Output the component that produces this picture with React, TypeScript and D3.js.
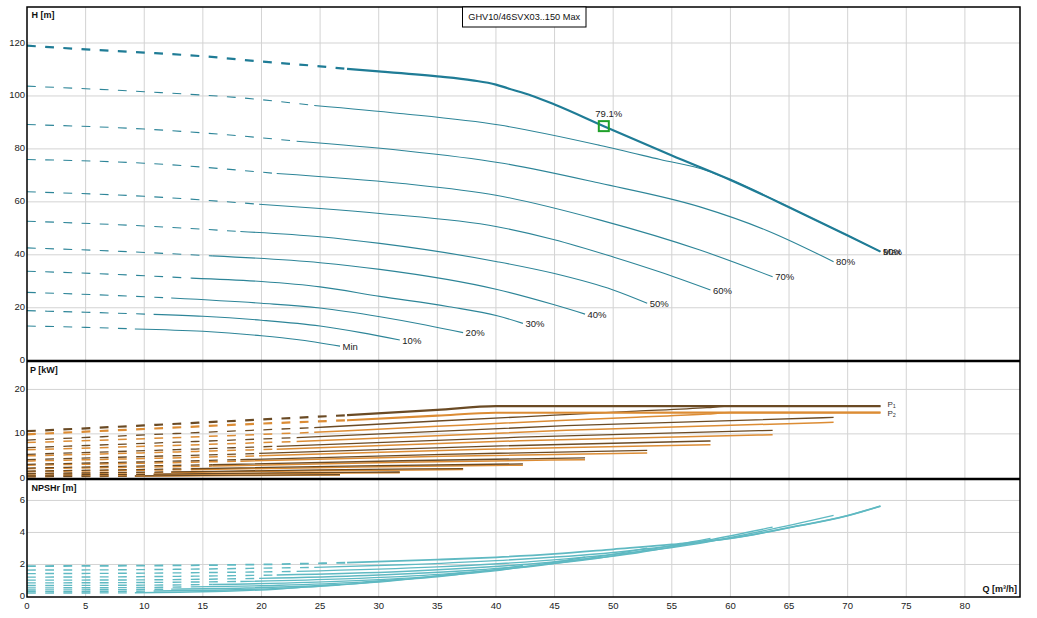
import React from "react";
import * as d3 from "d3";

const W = 1037;
const H = 618;

const title = "GHV10/46SVX03..150 Max";
const xTicks = [0, 5, 10, 15, 20, 25, 30, 35, 40, 45, 50, 55, 60, 65, 70, 75, 80];
const headTicks = [0, 20, 40, 60, 80, 100, 120];
const powerTicks = [0, 10, 20];
const npshTicks = [0, 2, 4, 6];

const curveLabels = ["Max", "90%", "80%", "70%", "60%", "50%", "40%", "30%", "20%", "10%", "Min"];
const dashEnds = [27.3, 24.5, 23, 21.3, 19.8, 18.2, 15.8, 14, 12.3, 10.8, 9.2];

const bestPoint = [49.2, 88.6];
const bestLabel = "79.1%";

const headCurves: number[][][] = [
  [[0, 119], [5, 117.6], [10, 116.4], [15, 115], [20, 113], [25, 111.2], [27.3, 110.2], [30, 109.3], [35, 107.4], [38, 105.9], [40, 104.3], [41, 102.9], [43, 100.2], [45, 96.8], [49.2, 88.6], [55, 77.5], [60, 68.3], [65, 58], [70, 47.3], [72.8, 41.2]],
  [[0, 103.7], [10, 101.6], [20, 98.6], [24.5, 96.4], [31.8, 93.4], [40.3, 89], [48.9, 81.3], [54, 76], [58, 71.8], [60, 68.3], [65, 58], [70, 47.3], [72.8, 41.2]],
  [[0, 89.2], [10, 87.5], [20, 84.2], [23, 82.9], [31.8, 79.5], [40.3, 74.8], [48.9, 67], [57.4, 58.1], [63.1, 49.2], [68.8, 37.4]],
  [[0, 76], [10, 74.6], [21.3, 70.7], [31.8, 67], [40, 62.5], [48.9, 53.1], [57.4, 41.8], [63.6, 31.7]],
  [[0, 63.8], [10, 62.1], [19.8, 59.1], [25, 57.5], [30.1, 55.6], [40.1, 50.6], [44.9, 45.8], [50, 39.2], [54, 33.5], [58.3, 26.7]],
  [[0, 52.7], [10, 50.9], [18.2, 48.8], [25, 46.8], [30.1, 44.3], [40.1, 37.4], [44.9, 33], [50, 26.7], [52.9, 21.7]],
  [[0, 42.6], [8, 41.3], [15.8, 39.6], [25, 37], [30.1, 34.5], [40.1, 26.9], [44.9, 21.2], [47.6, 17.6]],
  [[0, 33.8], [7, 32.7], [14, 31.2], [20, 29.9], [25, 27.9], [30.1, 24.3], [36, 20.4], [40.1, 17], [42.3, 14.1]],
  [[0, 25.8], [6, 24.9], [12.3, 23.7], [20, 21.7], [25, 19.9], [30.1, 16.6], [34, 13.5], [37.2, 10.6]],
  [[0, 18.9], [5, 18.3], [10.8, 17.5], [15, 16.8], [20, 15.3], [25, 13.1], [28.5, 10.6], [31.8, 7.8]],
  [[0, 13.1], [5, 12.6], [9.2, 12], [15, 11.1], [20, 9.4], [23, 8], [26.7, 5.5]],
];

const p1Curves: number[][][] = [
  [[0, 10.6], [10, 11.9], [19, 13.1], [27.3, 14.2], [35, 15.4], [40, 16.25], [72.8, 16.25]],
  [[0, 8.6], [12, 10], [24.5, 11.4], [35, 12.9], [45, 14.2], [52, 15.1], [58, 15.9], [60, 16.25], [72.8, 16.25]],
  [[0, 6.9], [12, 8.05], [23, 9.15], [46, 11.85], [68.8, 13.7]],
  [[0, 5.4], [11, 6.3], [21.3, 7.2], [42, 9.25], [63.6, 10.8]],
  [[0, 4.2], [10, 4.9], [19.8, 5.6], [39, 7.2], [58.3, 8.4]],
  [[0, 3.15], [9, 3.65], [18.2, 4.2], [35.5, 5.4], [52.9, 6.3]],
  [[0, 2.3], [8, 2.7], [15.8, 3.05], [32, 3.95], [47.6, 4.6]],
  [[0, 1.62], [7, 1.88], [14, 2.15], [28.5, 2.8], [42.3, 3.25]],
  [[0, 1.08], [6, 1.26], [12.3, 1.45], [25, 1.88], [37.2, 2.2]],
  [[0, 0.7], [5.4, 0.81], [10.8, 0.93], [21.5, 1.2], [31.8, 1.42]],
  [[0, 0.4], [4.6, 0.46], [9.2, 0.53], [18, 0.7], [26.7, 0.82]],
];

const p2Curves: number[][][] = [
  [[0, 9.9], [10, 11.1], [19, 12.2], [27.3, 13.05], [35, 14.1], [40, 14.75], [72.8, 14.8]],
  [[0, 8.05], [12, 9.1], [24.5, 10.35], [35, 11.7], [45, 12.95], [52, 13.75], [58, 14.45], [60, 14.8], [72.8, 14.8]],
  [[0, 6.45], [12, 7.35], [23, 8.3], [46, 10.8], [68.8, 12.6]],
  [[0, 5.05], [11, 5.8], [21.3, 6.55], [42, 8.45], [63.6, 9.8]],
  [[0, 3.9], [10, 4.45], [19.8, 5.05], [39, 6.55], [58.3, 7.55]],
  [[0, 2.95], [9, 3.35], [18.2, 3.85], [35.5, 4.95], [52.9, 5.7]],
  [[0, 2.15], [8, 2.45], [15.8, 2.75], [32, 3.6], [47.6, 4.2]],
  [[0, 1.5], [7, 1.72], [14, 1.95], [28.5, 2.55], [42.3, 2.95]],
  [[0, 1.0], [6, 1.15], [12.3, 1.3], [25, 1.7], [37.2, 1.98]],
  [[0, 0.63], [5.4, 0.72], [10.8, 0.83], [21.5, 1.07], [31.8, 1.25]],
  [[0, 0.36], [4.6, 0.41], [9.2, 0.47], [18, 0.62], [26.7, 0.72]],
];

const npshCurves: number[][][] = [
  [[0, 1.9], [10, 1.93], [20, 2.0], [27.3, 2.11], [35, 2.3], [40, 2.45], [45, 2.66], [50, 2.95], [55, 3.25], [60, 3.63], [65, 4.3], [70, 5.05], [72.8, 5.65]],
  [[0, 1.65], [10, 1.68], [24.5, 1.82], [32, 1.98], [40, 2.24], [50, 2.75], [58, 3.44], [60, 3.63], [65, 4.3], [70, 5.05], [72.8, 5.65]],
  [[0, 1.43], [12, 1.47], [23, 1.57], [35, 1.85], [46, 2.35], [57, 3.28], [63, 4.13], [68.8, 5.07]],
  [[0, 1.21], [10, 1.24], [21.3, 1.34], [32, 1.56], [42, 1.98], [52, 2.72], [58, 3.51], [63.6, 4.33]],
  [[0, 1.02], [10, 1.04], [19.8, 1.13], [29, 1.31], [39, 1.69], [48, 2.32], [53, 2.92], [58.3, 3.63]],
  [[0, 0.85], [9, 0.87], [18.2, 0.94], [27, 1.1], [35.5, 1.4], [44, 1.96], [48.5, 2.45], [52.9, 3.02]],
  [[0, 0.69], [8, 0.7], [15.8, 0.75], [24, 0.88], [32, 1.13], [39.5, 1.57], [43.7, 1.99], [47.6, 2.45]],
  [[0, 0.54], [7, 0.55], [14, 0.6], [21.5, 0.7], [28.5, 0.9], [35, 1.23], [39, 1.59], [42.3, 1.94]],
  [[0, 0.41], [6, 0.42], [12.3, 0.46], [18.7, 0.53], [25, 0.69], [30.5, 0.93], [34, 1.21], [37.2, 1.48]],
  [[0, 0.3], [5.4, 0.31], [10.8, 0.34], [16, 0.39], [21.5, 0.51], [26, 0.68], [29, 0.87], [31.8, 1.08]],
  [[0, 0.21], [4.6, 0.22], [9.2, 0.23], [13, 0.27], [17.5, 0.34], [21.5, 0.47], [24, 0.6], [26.7, 0.74]],
];

function splitAt(pts: number[][], q: number): [number[][], number[][]] {
  const dashed: number[][] = [];
  const solid: number[][] = [];
  for (let i = 0; i < pts.length; i++) {
    const p = pts[i];
    if (p[0] <= q) dashed.push(p);
    if (p[0] >= q) solid.push(p);
  }
  const last = dashed[dashed.length - 1];
  if (last[0] < q && solid.length) {
    const nxt = solid[0];
    const t = (q - last[0]) / (nxt[0] - last[0]);
    const mid = [q, last[1] + t * (nxt[1] - last[1])];
    dashed.push(mid);
    solid.unshift(mid);
  }
  return [dashed, solid];
}

const FONT = "'Liberation Sans', Arial, sans-serif";
const DASH = "8.8 9.4";

export default function App() {
  const x = d3.scaleLinear().domain([0, 84.7]).range([27, 1020]);
  const yH = d3.scaleLinear().domain([0, 133.6]).range([360.7, 7]);
  const yP = d3.scaleLinear().domain([0, 26.4]).range([478.3, 361]);
  const yN = d3.scaleLinear().domain([0, 7.34]).range([596.5, 479]);

  const mk = (y: d3.ScaleLinear<number, number>) =>
    d3
      .line<number[]>()
      .x((d) => x(d[0]))
      .y((d) => y(d[1]))
      .curve(d3.curveMonotoneX);
  const lineH = mk(yH);
  const lineP = mk(yP);
  const lineN = mk(yN);

  const gridX = xTicks.filter((t) => t > 0);
  const gridColor = "#d3d3d3";

  const drawSplit = (
    pts: number[][],
    q: number,
    gen: d3.Line<number[]>,
    color: string,
    width: number,
    key: string
  ) => {
    const [dashed, solid] = splitAt(pts, q);
    return (
      <g key={key}>
        <path d={gen(dashed) || ""} fill="none" stroke={color} strokeWidth={width} strokeDasharray={DASH} />
        {solid.length > 1 && <path d={gen(solid) || ""} fill="none" stroke={color} strokeWidth={width} />}
      </g>
    );
  };

  const order = d3.range(curveLabels.length).reverse();

  return (
    <svg
      width={W}
      height={H}
      viewBox={`0 0 ${W} ${H}`}
      style={{ position: "absolute", left: 0, top: 0, background: "#fff" }}
      fontFamily={FONT}
    >
      <rect x={0} y={0} width={W} height={H} fill="#fff" />
      {/* grid */}
      <g stroke={gridColor} strokeWidth={1}>
        {gridX.map((t) => (
          <line key={"gx" + t} x1={x(t)} x2={x(t)} y1={7} y2={597} />
        ))}
        {headTicks.filter((t) => t > 0).map((t) => (
          <line key={"gh" + t} x1={27} x2={1020} y1={yH(t)} y2={yH(t)} />
        ))}
        {powerTicks.filter((t) => t > 0).map((t) => (
          <line key={"gp" + t} x1={27} x2={1020} y1={yP(t)} y2={yP(t)} />
        ))}
        {npshTicks.filter((t) => t > 0).map((t) => (
          <line key={"gn" + t} x1={27} x2={1020} y1={yN(t)} y2={yN(t)} />
        ))}
      </g>

      {/* NPSH curves */}
      {order.map((i) =>
        drawSplit(npshCurves[i], dashEnds[i], lineN, "#5fb9c2", i === 0 ? 1.8 : 1.4, "n" + i)
      )}

      {/* Power curves */}
      {order.map((i) => (
        <g key={"p" + i}>
          {drawSplit(p2Curves[i], dashEnds[i], lineP, "#dc8c34", i === 0 ? 2.2 : 1.5, "p2" + i)}
          {drawSplit(p1Curves[i], dashEnds[i], lineP, "#6a4a24", i === 0 ? 2.2 : 1.3, "p1" + i)}
        </g>
      ))}

      {/* Head curves */}
      {order.map((i) =>
        drawSplit(headCurves[i], dashEnds[i], lineH, i === 0 ? "#1f7c96" : "#2d8598", i === 0 ? 2.2 : 1.1, "h" + i)
      )}

      {/* curve labels */}
      {order.map((i) => {
        const pts = headCurves[i];
        const e = pts[pts.length - 1];
        return (
          <text
            key={"lbl" + i}
            x={x(e[0]) + 2.5}
            y={yH(e[1]) + 1}
            fontSize={9.5}
            fill="#222"
            dominantBaseline="middle"
          >
            {curveLabels[i]}
          </text>
        );
      })}

      {/* best efficiency point */}
      <rect
        x={x(bestPoint[0]) - 5}
        y={yH(bestPoint[1]) - 5}
        width={10}
        height={10}
        fill="none"
        stroke="#1fa02a"
        strokeWidth={2}
      />
      <text
        x={x(bestPoint[0]) + 5}
        y={yH(bestPoint[1]) - 12}
        fontSize={9.5}
        fill="#222"
        textAnchor="middle"
        dominantBaseline="middle"
      >
        {bestLabel}
      </text>

      {/* P1 / P2 labels */}
      <text x={x(72.8) + 7} y={yP(16.25) - 1} fontSize={8} fill="#333" dominantBaseline="middle">
        P<tspan fontSize={5.5} dy={2}>1</tspan>
      </text>
      <text x={x(72.8) + 7} y={yP(14.8) + 1} fontSize={8} fill="#333" dominantBaseline="middle">
        P<tspan fontSize={5.5} dy={2}>2</tspan>
      </text>

      {/* frame */}
      <rect x={27} y={7} width={993} height={590} fill="none" stroke="#000" strokeWidth={1.5} />
      <line x1={27} x2={1020} y1={361} y2={361} stroke="#000" strokeWidth={2.5} />
      <line x1={27} x2={1020} y1={479} y2={479} stroke="#000" strokeWidth={2.5} />

      {/* title box */}
      <rect x={462.5} y={7} width={123.5} height={20} fill="#fff" stroke="#000" strokeWidth={1} />
      <text x={524.2} y={17.5} fontSize={9.2} fill="#111" textAnchor="middle" dominantBaseline="middle">
        {title}
      </text>

      {/* tick labels */}
      <g fontSize={9.5} fill="#222">
        {headTicks.map((t) => (
          <text key={"th" + t} x={25} y={yH(t)} textAnchor="end" dominantBaseline="middle">
            {t}
          </text>
        ))}
        {powerTicks.map((t) => (
          <text key={"tp" + t} x={25} y={yP(t)} textAnchor="end" dominantBaseline="middle">
            {t}
          </text>
        ))}
        {npshTicks.map((t) => (
          <text key={"tn" + t} x={25} y={yN(t)} textAnchor="end" dominantBaseline="middle">
            {t}
          </text>
        ))}
        {xTicks.map((t) => (
          <text key={"tx" + t} x={x(t)} y={606} textAnchor="middle" dominantBaseline="middle">
            {t}
          </text>
        ))}
      </g>

      {/* axis titles */}
      <g fontSize={9} fontWeight="bold" fill="#111">
        <text x={31.5} y={15.5} dominantBaseline="middle">H [m]</text>
        <text x={30} y={371} dominantBaseline="middle">P [kW]</text>
        <text x={31.5} y={489} dominantBaseline="middle">NPSHr [m]</text>
        <text x={1017} y={590} textAnchor="end" dominantBaseline="middle">Q [m³/h]</text>
      </g>
    </svg>
  );
}
